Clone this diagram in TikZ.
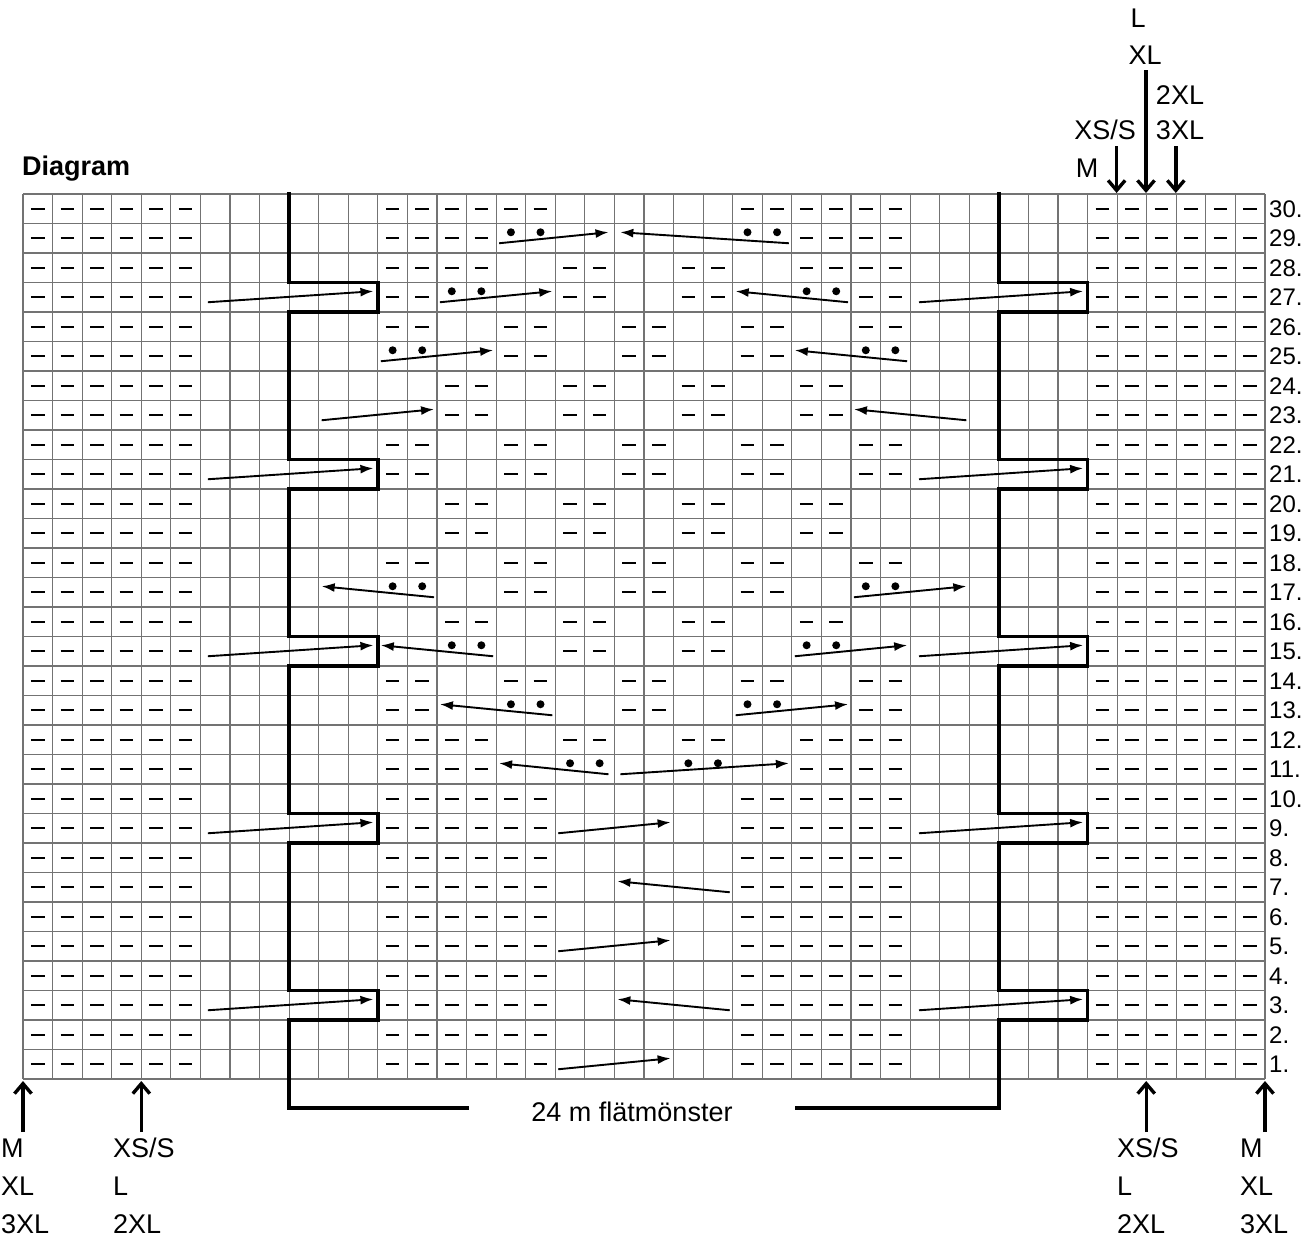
\documentclass[tikz,border=0pt]{standalone}
\usepackage{fontspec}
\setmainfont{Liberation Sans}
\usetikzlibrary{arrows.meta}
\begin{document}
\begin{tikzpicture}[x=1pt,y=-1pt,
  grid/.style={draw=black!55,line width=1.2pt},
  thick/.style={line width=3.6pt,line cap=rect},
  arr/.style={line width=1.9pt,-{Latex[length=13pt,width=9pt]}},
  big/.style={line width=3.4pt,-{Straight Barb[length=10pt,width=17pt,line width=3.4pt]}},
  lab/.style={font=\fontsize{27}{32}\selectfont,inner sep=0pt},
  num/.style={font=\fontsize{24}{26}\selectfont,anchor=west,inner sep=0pt}]
\useasboundingbox (0,0) rectangle (1308,1245);
\def\cw{29.571}\def\ch{29.5}
% grid
\foreach \c in {0,...,42} \draw[grid] ({23+\c*\cw},194) -- ({23+\c*\cw},1079);
\foreach \r in {0,...,30} \draw[grid] (23,{194+\r*\ch}) -- (1265,{194+\r*\ch});
\newcommand\dsh[2]{\draw[line width=2pt] ({23+(#1+0.27)*\cw},{194+(30-(#2))*\ch+0.5*\ch}) -- ({23+(#1+0.73)*\cw},{194+(30-(#2))*\ch+0.5*\ch});}
\newcommand\dts[2]{\fill ({23+(#1+0.5)*\cw},{194+(30-(#2))*\ch+0.5*\ch-6}) circle (4);\fill ({23+(#1+1.5)*\cw},{194+(30-(#2))*\ch+0.5*\ch-6}) circle (4);}
\newcommand\ar[3]{\draw[arr] ({23+(#2)*\cw},{194+(30-(#1))*\ch+0.5*\ch+5}) -- ({23+(#3)*\cw},{194+(30-(#1))*\ch+0.5*\ch-6});}
% outer dashes
\foreach \r in {1,...,30}{\foreach \c in {0,...,5,36,37,...,41}{\dsh{\c}{\r}}}
% inner dashes
\foreach \r in {30,10,9,8,7,6,5,4,3,2,1}{\foreach \c in {12,...,17,24,25,...,29}{\dsh{\c}{\r}}}
\foreach \r in {29,11}{\foreach \c in {12,...,15,26,27,28,29}{\dsh{\c}{\r}}}
\foreach \r in {28,12}{\foreach \c in {12,...,15,18,19,22,23,26,27,28,29}{\dsh{\c}{\r}}}
\foreach \c in {12,13,18,19,22,23,28,29}{\dsh{\c}{27}}
\foreach \r in {26,22,21,18,14}{\foreach \c in {12,13,16,17,20,21,24,25,28,29}{\dsh{\c}{\r}}}
\foreach \r in {25,17}{\foreach \c in {16,17,20,21,24,25}{\dsh{\c}{\r}}}
\foreach \r in {24,23,20,19,16}{\foreach \c in {14,15,18,19,22,23,26,27}{\dsh{\c}{\r}}}
\foreach \c in {18,19,22,23}{\dsh{\c}{15}}
\foreach \c in {12,13,20,21,28,29}{\dsh{\c}{13}}
% dots
\dts{16}{29}\dts{24}{29}\dts{14}{27}\dts{26}{27}\dts{12}{25}\dts{28}{25}
\dts{12}{17}\dts{28}{17}\dts{14}{15}\dts{26}{15}\dts{16}{13}\dts{24}{13}\dts{18}{11}\dts{22}{11}
% arrows
\ar{29}{16.1}{19.8}\ar{29}{25.9}{20.2}
\ar{27}{14.1}{17.9}\ar{27}{27.9}{24.1}
\ar{25}{12.1}{15.9}\ar{25}{29.9}{26.1}
\ar{23}{10.1}{13.9}\ar{23}{31.9}{28.1}
\ar{17}{13.9}{10.1}\ar{17}{28.1}{31.9}
\ar{15}{15.9}{12.1}\ar{15}{26.1}{29.9}
\ar{13}{17.9}{14.1}\ar{13}{24.1}{27.9}
\ar{11}{19.8}{16.1}\ar{11}{20.2}{25.9}
\ar{9}{18.1}{21.9}\ar{7}{23.9}{20.1}\ar{5}{18.1}{21.9}\ar{3}{23.9}{20.1}\ar{1}{18.1}{21.9}
\foreach \r in {27,21,15,9,3}{\ar{\r}{6.25}{11.85}\ar{\r}{30.3}{35.85}}
% thick borders
\draw[thick] (289.14,194) -- (289.14,282.5) -- (377.86,282.5) -- (377.86,312) -- (289.14,312)
 -- (289.14,459.5) -- (377.86,459.5) -- (377.86,489) -- (289.14,489)
 -- (289.14,636.5) -- (377.86,636.5) -- (377.86,666) -- (289.14,666)
 -- (289.14,813.5) -- (377.86,813.5) -- (377.86,843) -- (289.14,843)
 -- (289.14,990.5) -- (377.86,990.5) -- (377.86,1020) -- (289.14,1020)
 -- (289.14,1108) -- (467,1108);
\draw[thick] (998.86,194) -- (998.86,282.5) -- (1087.57,282.5) -- (1087.57,312) -- (998.86,312)
 -- (998.86,459.5) -- (1087.57,459.5) -- (1087.57,489) -- (998.86,489)
 -- (998.86,636.5) -- (1087.57,636.5) -- (1087.57,666) -- (998.86,666)
 -- (998.86,813.5) -- (1087.57,813.5) -- (1087.57,843) -- (998.86,843)
 -- (998.86,990.5) -- (1087.57,990.5) -- (1087.57,1020) -- (998.86,1020)
 -- (998.86,1108) -- (797,1108);
\node[lab] (flat) at (632,1112) {24 m flätmönster};
% row numbers
\foreach \r in {1,...,30} \node[num] (n\r) at (1269,{194+(30-\r)*\ch+0.5*\ch}) {\r.};
\node[anchor=south west,inner sep=0pt,font=\fontsize{27}{30}\selectfont\bfseries] (dg) at (22,181) {Diagram};
% top labels
\node[lab] (tL) at (1138,18) {L};
\node[lab] (tXL) at (1145,55) {XL};
\node[lab] (t2) at (1180,95) {2XL};
\node[lab] (t3) at (1180,130) {3XL};
\node[lab] (tXS) at (1105,130) {XS/S};
\node[lab] (tM) at (1087,168) {M};
\draw[big] (1146,70) -- (1146,193);
\draw[big] (1116.6,146) -- (1116.6,193);
\draw[big] (1175.8,146) -- (1175.8,193);
% bottom arrows
\draw[big] (23,1132) -- (23,1081);
\draw[big] (141.3,1132) -- (141.3,1081);
\draw[big] (1146.2,1132) -- (1146.2,1081);
\draw[big] (1265,1132) -- (1265,1081);
\foreach \x/\a/\b/\c/\n in {1/M/XL/3XL/a,113/XS\slash S/L/2XL/b,1117/XS\slash S/L/2XL/c,1240/M/XL/3XL/d}{
  \node[lab,anchor=west] (\n1) at (\x,1148) {\a};
  \node[lab,anchor=west] (\n2) at (\x,1186) {\b};
  \node[lab,anchor=west] (\n3) at (\x,1224) {\c};
}
\end{tikzpicture}
\end{document}
